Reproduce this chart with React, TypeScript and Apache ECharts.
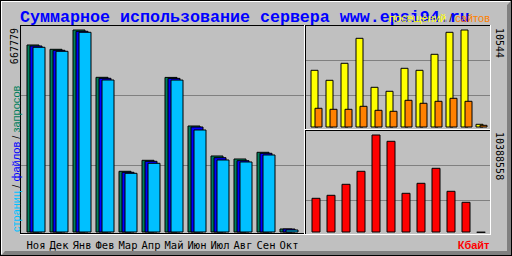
import React, { useEffect, useRef } from 'react';
import * as echarts from 'echarts';

const titleText = 'Суммарное использование сервера www.epsi94.ru';
const months = ['Ноя', 'Дек', 'Янв', 'Фев', 'Мар', 'Апр', 'Май', 'Июн', 'Июл', 'Авг', 'Сен', 'Окт'];
const hits = [618440, 604290, 667779, 512100, 202960, 239150, 511800, 351980, 253300, 243430, 265470, 13160];
const files = [615150, 601000, 663500, 508890, 199680, 235860, 508600, 348690, 247700, 237840, 262180, 13100];
const pages = [610870, 597720, 660210, 503300, 196390, 229280, 503000, 338830, 240140, 233560, 256590, 9870];
const visits = [6208, 5132, 6961, 9651, 4379, 3949, 6423, 6208, 7929, 10296, 10544, 398];
const sites = [2120, 2012, 2012, 2335, 1904, 1797, 2980, 2658, 2873, 3195, 2873, 290];
const kbytes = [3678400, 3996400, 5162500, 6540600, 10388558, 9720700, 4208400, 5268500, 6858600, 4420500, 3254400, 53000];
const leftLegend = ['страниц', 'файлов', 'запросов'];
const topLegend = ['посещений', 'сайтов'];
const unitLabel = 'Кбайт';

const px = (x: number, y: number, w: number, h: number, fill: string) => ({
  type: 'rect', silent: true, z: 100,
  shape: { x, y, width: w, height: h }, style: { fill },
});

const txt = (x: number, y: number, text: string, font: string, fill: string, align: string, rotation = 0, rich?: any) => ({
  type: 'text', silent: true, z: 110, x, y, rotation,
  style: {
    text, x: 0, y: 0, font, fill,
    textAlign: align, align, textVerticalAlign: 'middle', verticalAlign: 'middle',
    ...(rich ? { rich } : {}),
  },
});

export default function App() {
  const ref = useRef<HTMLDivElement>(null);
  useEffect(() => {
    document.body.style.margin = '0';
    const chart = echarts.init(ref.current!, null, { renderer: 'svg' });
    const maxHits = Math.max(...hits);
    const maxVisits = Math.max(...visits);
    const maxKB = Math.max(...kbytes);
    const gridLineAxis = (gi: number) => ({
      type: 'value', gridIndex: gi, min: 0, max: 3, interval: 1,
      axisLine: { show: false }, axisTick: { show: false }, axisLabel: { show: false },
      splitLine: { show: true, showMinLine: false, showMaxLine: false, lineStyle: { color: '#808080', width: 1 } },
    });
    const hiddenVal = (gi: number, max: number) => ({ type: 'value', gridIndex: gi, min: 0, max, show: false, splitLine: { show: false } });
    const hiddenCat = (gi: number) => ({ type: 'category', gridIndex: gi, data: months, show: false });
    const barStyle = (color: string) => ({ color, borderColor: '#000', borderWidth: 1 });
    const small = '10px "DejaVu Sans Mono"';
    const legFont = '11px "Liberation Sans"';

    const option: any = {
      animation: false,
      backgroundColor: '#c0c0c0',
      grid: [
        { left: 24.5, top: 29.5, width: 276, height: 203 },
        { left: 21, top: 25, width: 283, height: 210 },
        { left: 309, top: 29.5, width: 180, height: 98 },
        { left: 306, top: 25, width: 184, height: 105 },
        { left: 308.5, top: 134.5, width: 180, height: 98 },
        { left: 306, top: 130, width: 184, height: 105 },
      ],
      xAxis: [
        {
          type: 'category', gridIndex: 0, data: months,
          axisLine: { show: false }, axisTick: { show: false },
          axisLabel: { interval: 0, color: '#000', fontSize: 10.5, fontFamily: 'DejaVu Sans Mono', margin: 6, lineHeight: 12 },
        },
        { type: 'value', gridIndex: 1, show: false },
        hiddenCat(2),
        { type: 'value', gridIndex: 3, show: false },
        hiddenCat(4),
        { type: 'value', gridIndex: 5, show: false },
      ],
      yAxis: [
        hiddenVal(0, maxHits),
        gridLineAxis(1),
        hiddenVal(2, maxVisits),
        gridLineAxis(3),
        hiddenVal(4, maxKB),
        gridLineAxis(5),
      ],
      series: [
        { type: 'bar', name: 'hits', xAxisIndex: 0, yAxisIndex: 0, data: hits, barWidth: 13, barGap: '-76.923%', itemStyle: barStyle('#00805c'), silent: true },
        { type: 'bar', name: 'files', xAxisIndex: 0, yAxisIndex: 0, data: files, barWidth: 13, barGap: '-76.923%', itemStyle: barStyle('#0000ff'), silent: true },
        { type: 'bar', name: 'pages', xAxisIndex: 0, yAxisIndex: 0, data: pages, barWidth: 13, barGap: '-76.923%', itemStyle: barStyle('#00c0ff'), silent: true },
        { type: 'bar', name: 'visits', xAxisIndex: 2, yAxisIndex: 2, data: visits, barWidth: 8, barGap: '-50%', itemStyle: barStyle('#ffff00'), silent: true },
        { type: 'bar', name: 'sites', xAxisIndex: 2, yAxisIndex: 2, data: sites, barWidth: 8, barGap: '-50%', itemStyle: barStyle('#ff8000'), silent: true },
        { type: 'bar', name: 'kbytes', xAxisIndex: 4, yAxisIndex: 4, data: kbytes, barWidth: 9, itemStyle: barStyle('#ff0000'), silent: true },
      ],
      graphic: {
        elements: [
          {
            type: 'polygon', silent: true, z: 100,
            shape: { points: [[511, 1], [511, 256], [1, 256], [5, 251], [507, 251], [507, 5]] },
            style: { fill: '#808080' },
          },
          px(0, 0, 512, 1, '#000'), px(0, 0, 1, 256, '#000'), px(511, 0, 1, 256, '#000'), px(0, 255, 512, 1, '#000'),
          px(1, 1, 509, 1, '#fff'), px(1, 1, 1, 253, '#fff'),
          // main panel
          px(20, 25, 285, 1, '#000'), px(20, 25, 1, 209, '#000'), px(20, 233, 285, 1, '#000'),
          px(20, 234, 285, 1, '#fff'), px(304, 25, 1, 210, '#fff'),
          // top-right panel
          px(305, 25, 186, 1, '#000'), px(305, 25, 1, 104, '#000'),
          px(305, 129, 186, 1, '#fff'), px(490, 25, 1, 105, '#fff'),
          // bottom-right panel
          px(305, 130, 186, 1, '#000'), px(305, 130, 1, 104, '#000'),
          px(305, 234, 186, 1, '#fff'), px(490, 130, 1, 105, '#fff'),
          // texts
          txt(20, 17.3, titleText, 'bold 16.67px "Liberation Mono"', '#0000ff', 'left'),
          txt(490, 18, `{a|${topLegend[0]}} / {b|${topLegend[1]}}`, legFont, '#000', 'right', 0, {
            a: { fill: '#ffff00', font: legFont }, b: { fill: '#ff8000', font: legFont },
          }),
          txt(14.7, 28, String(maxHits), small, '#000', 'right', Math.PI / 2),
          txt(15.5, 232, `{a|${leftLegend[0]}} / {b|${leftLegend[1]}} / {c|${leftLegend[2]}}`, legFont, '#000', 'left', Math.PI / 2, {
            a: { fill: '#00c0ff', font: legFont }, b: { fill: '#0000ff', font: legFont }, c: { fill: '#00805c', font: legFont },
          }),
          txt(499.5, 28, String(maxVisits), small, '#000', 'left', -Math.PI / 2),
          txt(499.5, 132, String(maxKB), small, '#000', 'left', -Math.PI / 2),
          txt(489.5, 244.5, unitLabel, 'bold 11px "Liberation Sans"', '#ff0000', 'right'),
        ],
      },
    };
    chart.setOption(option);
    return () => chart.dispose();
  }, []);
  return <div ref={ref} style={{ width: 512, height: 256 }} />;
}
